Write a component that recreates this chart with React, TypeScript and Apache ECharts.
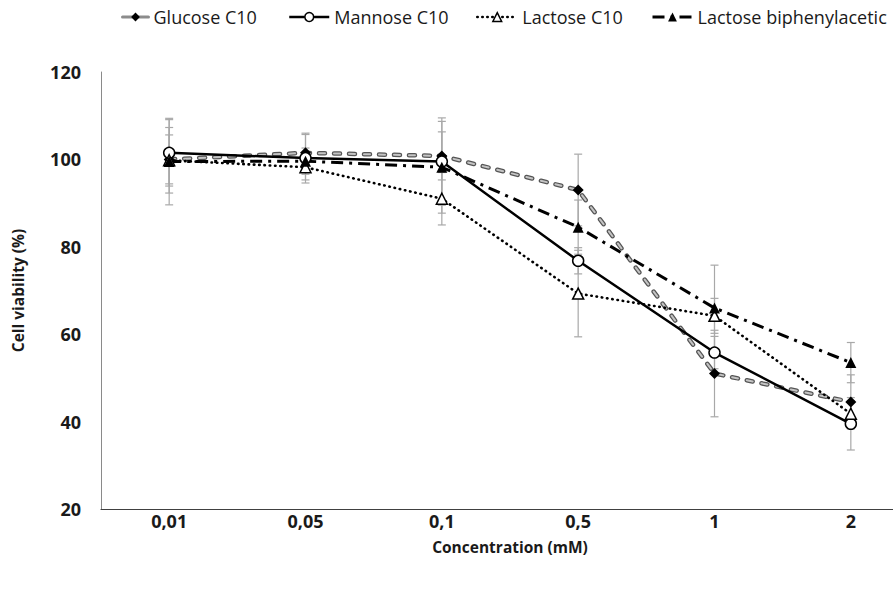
import React, { useEffect, useRef } from "react";
import * as echarts from "echarts";

const categories = ["0,01", "0,05", "0,1", "0,5", "1", "2"];
const yTicks = [20, 40, 60, 80, 100, 120];

const glucose = [100, 101.5, 100.8, 93, 51, 44.5];
const mannose = [101.5, 100.3, 99.5, 76.8, 55.8, 39.5];
const lactose = [99.8, 98.2, 91, 69.3, 64.2, 41.8];
const lactoseBiph = [99.5, 99.6, 98.2, 84.5, 66, 53.5];

const glucoseErr = [5.6, 4.2, 5.5, 8.2, 9.9, 6.2];
const mannoseErr = [7.6, 5.7, 10, 3, 3.7, 6];
const lactoseErr = [7.5, 2.9, 6, 9.9, 4, 3];
const lactoseBiphErr = [9.9, 3, 10.5, 6.2, 9.8, 4.6];

const names = ["Glucose C10", "Mannose C10", "Lactose C10", "Lactose biphenylacetic"];
const FONT = "Open Sans";

function errData(vals: number[], errs: number[]) {
  return vals.map((v, i) => [i, v - errs[i], v + errs[i]]);
}

function errSeries(vals: number[], errs: number[]) {
  return {
    type: "custom",
    silent: true,
    z: 1,
    data: errData(vals, errs),
    encode: { x: 0, y: [1, 2] },
    renderItem: (_p: any, api: any) => {
      const x = api.value(0);
      const top = api.coord([x, api.value(2)]);
      const bot = api.coord([x, api.value(1)]);
      const w = 4;
      const style = { stroke: "#a8a8a8", lineWidth: 1.2, fill: null };
      return {
        type: "group",
        children: [
          { type: "line", shape: { x1: top[0], y1: top[1], x2: bot[0], y2: bot[1] }, style },
          { type: "line", shape: { x1: top[0] - w, y1: top[1], x2: top[0] + w, y2: top[1] }, style },
          { type: "line", shape: { x1: bot[0] - w, y1: bot[1], x2: bot[0] + w, y2: bot[1] }, style },
        ],
      };
    },
  };
}

function markers(vals: number[], symbol: string, size: number, fill: string) {
  return {
    type: "scatter",
    name: "_m_" + symbol + fill,
    data: vals,
    symbol,
    symbolSize: size,
    z: 6,
    silent: true,
    itemStyle: { color: fill, borderColor: "#000", borderWidth: fill === "#fff" ? 1.5 : 0, opacity: 1 },
  };
}

function legendBox(item: any, left: number, width: number, padLeft: number) {
  return {
    left,
    top: 3,
    itemWidth: width,
    itemHeight: 11,
    selectedMode: false,
    textStyle: { fontFamily: FONT, fontSize: 18, color: "#1a1a1a", padding: [0, 0, 0, padLeft] },
    data: [item],
  };
}

export default function App() {
  const ref = useRef<HTMLDivElement>(null);
  useEffect(() => {
    if (!ref.current) return;
    const chart = echarts.init(ref.current, undefined, { renderer: "svg" });
    chart.setOption({
      animation: false,
      backgroundColor: "#fff",
      grid: { left: 101, top: 72, width: 818, height: 437 },
      legend: [
        legendBox(
          {
            name: names[0],
            itemStyle: { color: "#000", borderWidth: 0 },
            lineStyle: { color: "#8c8c8c", width: 3, type: "solid" },
          },
          116,
          26,
          0
        ),
        legendBox(
          {
            name: names[1],
            itemStyle: { color: "#fff", borderColor: "#000", borderWidth: 1.5 },
            lineStyle: { color: "#000", width: 2.5, type: "solid" },
          },
          283,
          40,
          0
        ),
        legendBox(
          {
            name: names[2],
            itemStyle: { color: "#fff", borderColor: "#000", borderWidth: 1.5 },
            lineStyle: { color: "#000", width: 2.5, type: [0.5, 4.5], cap: "round" },
          },
          471,
          40,
          0
        ),
        legendBox(
          {
            name: names[3],
            itemStyle: { color: "#000", borderWidth: 0 },
            lineStyle: { color: "#000", width: 3, type: [12, 6, 3, 6] },
          },
          646,
          40,
          0
        ),
      ],
      xAxis: {
        type: "category",
        data: categories,
        boundaryGap: true,
        axisLine: { show: true, lineStyle: { color: "#404040", width: 1.2 } },
        axisTick: { show: false },
        axisLabel: { fontFamily: FONT, fontSize: 18, fontWeight: "bold", color: "#1a1a1a", margin: 3 },
        name: "Concentration (mM)",
        nameLocation: "middle",
        nameGap: 30,
        nameTextStyle: { fontFamily: FONT, fontSize: 15.5, fontWeight: "bold", color: "#1a1a1a" },
      },
      yAxis: {
        type: "value",
        min: yTicks[0],
        max: yTicks[yTicks.length - 1],
        interval: 20,
        axisLine: { show: true, lineStyle: { color: "#8a8a8a", width: 1 } },
        axisTick: { show: false },
        splitLine: { show: false },
        axisLabel: { fontFamily: FONT, fontSize: 18, fontWeight: "bold", color: "#1a1a1a", margin: 20 },
        name: "Cell viability (%)",
        nameLocation: "middle",
        nameGap: 75,
        nameTextStyle: { fontFamily: FONT, fontSize: 15.5, fontWeight: "bold", color: "#1a1a1a" },
      },
      series: [
        errSeries(glucose, glucoseErr),
        errSeries(mannose, mannoseErr),
        errSeries(lactose, lactoseErr),
        errSeries(lactoseBiph, lactoseBiphErr),
        {
          type: "line",
          name: names[0],
          data: glucose,
          showSymbol: false,
          symbol: "diamond",
          symbolSize: 11,
          z: 3,
          itemStyle: { color: "#000" },
          lineStyle: { color: "#555", width: 4.5, type: [6, 9], cap: "round" },
        },
        {
          type: "line",
          name: "_glucose_inner",
          data: glucose,
          showSymbol: false,
          silent: true,
          z: 3,
          lineStyle: { color: "#c4c4c4", width: 2, type: [6, 9], cap: "round" },
        },
        {
          type: "line",
          name: names[1],
          data: mannose,
          showSymbol: false,
          symbol: "circle",
          symbolSize: 11,
          z: 4,
          itemStyle: { color: "#fff", borderColor: "#000", borderWidth: 1.5 },
          lineStyle: { color: "#000", width: 2.5, type: "solid" },
        },
        {
          type: "line",
          name: names[2],
          data: lactose,
          showSymbol: false,
          symbol: "triangle",
          symbolSize: 11,
          z: 4,
          itemStyle: { color: "#fff", borderColor: "#000", borderWidth: 1.5 },
          lineStyle: { color: "#000", width: 2.6, type: [0.5, 4.8], cap: "round" },
        },
        {
          type: "line",
          name: names[3],
          data: lactoseBiph,
          showSymbol: false,
          symbol: "triangle",
          symbolSize: 11,
          z: 4,
          itemStyle: { color: "#000" },
          lineStyle: { color: "#000", width: 3, type: [12, 6, 3, 6] },
        },
        markers(glucose, "diamond", 11, "#000"),
        markers(mannose, "circle", 11, "#fff"),
        markers(lactose, "triangle", 11, "#fff"),
        markers(lactoseBiph, "triangle", 11, "#000"),
      ],
    });
    return () => chart.dispose();
  }, []);
  return (
    <div style={{ position: "fixed", left: 0, top: 0, width: 893, height: 613, overflow: "hidden", background: "#fff" }}>
      <div ref={ref} style={{ width: 945, height: 613 }} />
    </div>
  );
}
